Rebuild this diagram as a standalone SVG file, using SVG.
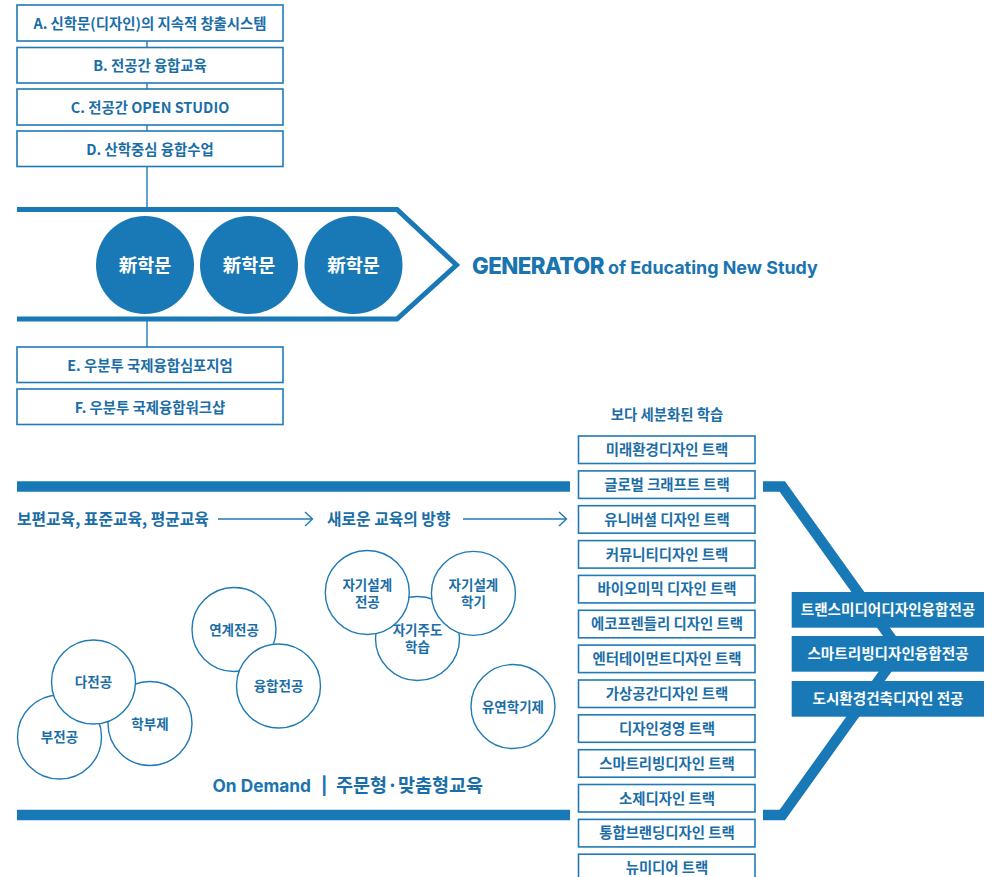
<svg xmlns="http://www.w3.org/2000/svg" width="993" height="877" viewBox="0 0 993 877">
<style>
.kr{font-family:"Noto Sans CJK KR","Noto Sans",sans-serif;font-weight:700;}
.box{fill:#fff;stroke:#1f7ab5;stroke-width:1.6;}
.bt{font-size:14.4px;fill:#1a6ea8;text-anchor:middle;}
.tt{font-size:14.4px;fill:#1a6ea8;text-anchor:middle;}
.circ{fill:#fff;stroke:#1f7ab5;stroke-width:1.4;}
.ct{font-size:13.5px;fill:#1a6ea8;text-anchor:middle;}
.bc{fill:#1879b6;}
.bct{font-size:18.5px;fill:#fff;text-anchor:middle;}
.mj{fill:#1879b6;}
.mjt{font-size:14.6px;fill:#fff;text-anchor:middle;}
.thin{stroke:#1f7ab5;stroke-width:1.4;fill:none;}
.band{stroke:#1879b6;fill:none;stroke-linejoin:miter;}
.en{font-family:Inter,"Noto Sans",sans-serif;font-weight:700;fill:#1a74b0;}
</style>

<g id="connectors">
  <line class="thin" x1="147" y1="41" x2="147" y2="48"/>
  <line class="thin" x1="147" y1="83" x2="147" y2="89"/>
  <line class="thin" x1="147" y1="125" x2="147" y2="131"/>
  <line class="thin" x1="147" y1="167" x2="147" y2="208"/>
  <line class="thin" x1="147" y1="321" x2="147" y2="347"/>
  <polyline class="band" stroke-width="5" points="17,209.5 397,209.5 456.5,265 397,319 17,319"/>
  <line class="band" stroke-width="10.5" x1="17" y1="486.5" x2="570" y2="486.5"/>
  <line class="band" stroke-width="10.5" x1="17" y1="815" x2="570" y2="815"/>
  <polyline class="band" stroke-width="10.5" points="763,486.5 782.3,486.5 900,650.75 782.3,815 763,815"/>
  <line class="thin" x1="218" y1="519" x2="312" y2="519"/>
  <polyline class="thin" points="305,512 312.5,519 305,526"/>
  <line class="thin" x1="463" y1="519" x2="566" y2="519"/>
  <polyline class="thin" points="559,512 566.5,519 559,526"/>
</g>

<g id="nodeA"><rect class="box" x="17" y="5" width="266" height="36"/><text class="kr bt" x="150" y="28.5">A. 신학문(디자인)의 지속적 창출시스템</text></g>
<g id="nodeB"><rect class="box" x="17" y="47.5" width="266" height="35.5"/><text class="kr bt" x="150" y="70.5">B. 전공간 융합교육</text></g>
<g id="nodeC"><rect class="box" x="17" y="89" width="266" height="36"/><text class="kr bt" x="150" y="112.5">C. 전공간 OPEN STUDIO</text></g>
<g id="nodeD"><rect class="box" x="17" y="131" width="266" height="35.5"/><text class="kr bt" x="150" y="154.5">D. 산학중심 융합수업</text></g>

<g id="gen1"><circle class="bc" cx="145" cy="265" r="49"/><text class="kr bct" x="145" y="271.5">新학문</text></g>
<g id="gen2"><circle class="bc" cx="249" cy="265" r="49"/><text class="kr bct" x="249" y="271.5">新학문</text></g>
<g id="gen3"><circle class="bc" cx="353.5" cy="265" r="49"/><text class="kr bct" x="353.5" y="271.5">新학문</text></g>

<g id="generator-title"><text class="en" x="472" y="273.5"><tspan font-size="22.3px" font-weight="800" letter-spacing="-0.6">GENERATOR</tspan><tspan font-size="17.9px" dx="4">of Educating New Study</tspan></text></g>

<g id="nodeE"><rect class="box" x="17" y="347" width="266" height="35.5"/><text class="kr bt" x="150" y="370.5">E. 우분투 국제융합심포지엄</text></g>
<g id="nodeF"><rect class="box" x="17" y="389" width="266" height="35.5"/><text class="kr bt" x="150" y="412.5">F. 우분투 국제융합워크샵</text></g>

<g id="mid-labels">
  <text class="kr" x="17" y="525" font-size="15.8px" fill="#1a6ea8">보편교육, 표준교육, 평균교육</text>
  <text class="kr" x="327" y="525" font-size="15.8px" fill="#1a6ea8">새로운 교육의 방향</text>
</g>

<g id="c-bujeon"><circle class="circ" cx="59.5" cy="737" r="42"/><text class="kr ct" x="59.5" y="742">부전공</text></g>
<g id="c-hakbu"><circle class="circ" cx="150" cy="723.5" r="42"/><text class="kr ct" x="150" y="728.5">학부제</text></g>
<g id="c-dajeon"><circle class="circ" cx="93.5" cy="682" r="42"/><text class="kr ct" x="93.5" y="687">다전공</text></g>
<g id="c-yeongye"><circle class="circ" cx="234" cy="629.5" r="42"/><text class="kr ct" x="234" y="634.5">연계전공</text></g>
<g id="c-yunghap"><circle class="circ" cx="278.5" cy="686" r="42"/><text class="kr ct" x="278.5" y="691">융합전공</text></g>
<g id="c-jagiju"><circle class="circ" cx="417.5" cy="638.5" r="42"/><text class="kr ct" x="417.5" y="635">자기주도<tspan x="417.5" dy="17">학습</tspan></text></g>
<g id="c-jagi1"><circle class="circ" cx="367.3" cy="592.5" r="42"/><text class="kr ct" x="367.3" y="590">자기설계<tspan x="367.3" dy="17">전공</tspan></text></g>
<g id="c-jagi2"><circle class="circ" cx="473.4" cy="593.4" r="42"/><text class="kr ct" x="473.4" y="590">자기설계<tspan x="473.4" dy="17">학기</tspan></text></g>
<g id="c-yuyeon"><circle class="circ" cx="513" cy="706.5" r="42"/><text class="kr ct" x="513" y="711.5">유연학기제</text></g>

<g id="ondemand"><text x="212.5" y="791.5"><tspan class="en" font-size="17.3px">On Demand</tspan><tspan class="en" font-size="17.3px" x="321">|</tspan><tspan class="kr" font-size="18.5px" fill="#1a6ea8" x="336">주문형·맞춤형교육</tspan></text></g>

<g id="tracks-title"><text class="kr tt" x="667" y="420" font-size="15px">보다 세분화된 학습</text></g>
<g id="t1"><rect class="box" x="578.5" y="436" width="176.5" height="27.5"/><text class="kr tt" x="667" y="455">미래환경디자인 트랙</text></g>
<g id="t2"><rect class="box" x="578.5" y="470.9" width="176.5" height="27.5"/><text class="kr tt" x="667" y="489.9">글로벌 크래프트 트랙</text></g>
<g id="t3"><rect class="box" x="578.5" y="505.7" width="176.5" height="27.5"/><text class="kr tt" x="667" y="524.7">유니버셜 디자인 트랙</text></g>
<g id="t4"><rect class="box" x="578.5" y="540.6" width="176.5" height="27.5"/><text class="kr tt" x="667" y="559.6">커뮤니티디자인 트랙</text></g>
<g id="t5"><rect class="box" x="578.5" y="575.4" width="176.5" height="27.5"/><text class="kr tt" x="667" y="594.4">바이오미믹 디자인 트랙</text></g>
<g id="t6"><rect class="box" x="578.5" y="610.3" width="176.5" height="27.5"/><text class="kr tt" x="667" y="629.3">에코프렌들리 디자인 트랙</text></g>
<g id="t7"><rect class="box" x="578.5" y="645.1" width="176.5" height="27.5"/><text class="kr tt" x="667" y="664.1">엔터테이먼트디자인 트랙</text></g>
<g id="t8"><rect class="box" x="578.5" y="680" width="176.5" height="27.5"/><text class="kr tt" x="667" y="699">가상공간디자인 트랙</text></g>
<g id="t9"><rect class="box" x="578.5" y="714.8" width="176.5" height="27.5"/><text class="kr tt" x="667" y="733.8">디자인경영 트랙</text></g>
<g id="t10"><rect class="box" x="578.5" y="749.7" width="176.5" height="27.5"/><text class="kr tt" x="667" y="768.7">스마트리빙디자인 트랙</text></g>
<g id="t11"><rect class="box" x="578.5" y="784.5" width="176.5" height="27.5"/><text class="kr tt" x="667" y="803.5">소제디자인 트랙</text></g>
<g id="t12"><rect class="box" x="578.5" y="819.4" width="176.5" height="27.5"/><text class="kr tt" x="667" y="838.4">통합브랜딩디자인 트랙</text></g>
<g id="t13"><rect class="box" x="578.5" y="854.2" width="176.5" height="27.5"/><text class="kr tt" x="667" y="873.2">뉴미디어 트랙</text></g>

<g id="m1"><rect class="mj" x="791.7" y="592" width="192.3" height="35.7"/><text class="kr mjt" x="888" y="615">트랜스미디어디자인융합전공</text></g>
<g id="m2"><rect class="mj" x="791.7" y="636" width="192.3" height="35.7"/><text class="kr mjt" x="888" y="659">스마트리빙디자인융합전공</text></g>
<g id="m3"><rect class="mj" x="791.7" y="681" width="192.3" height="35.7"/><text class="kr mjt" x="888" y="704">도시환경건축디자인 전공</text></g>
</svg>
